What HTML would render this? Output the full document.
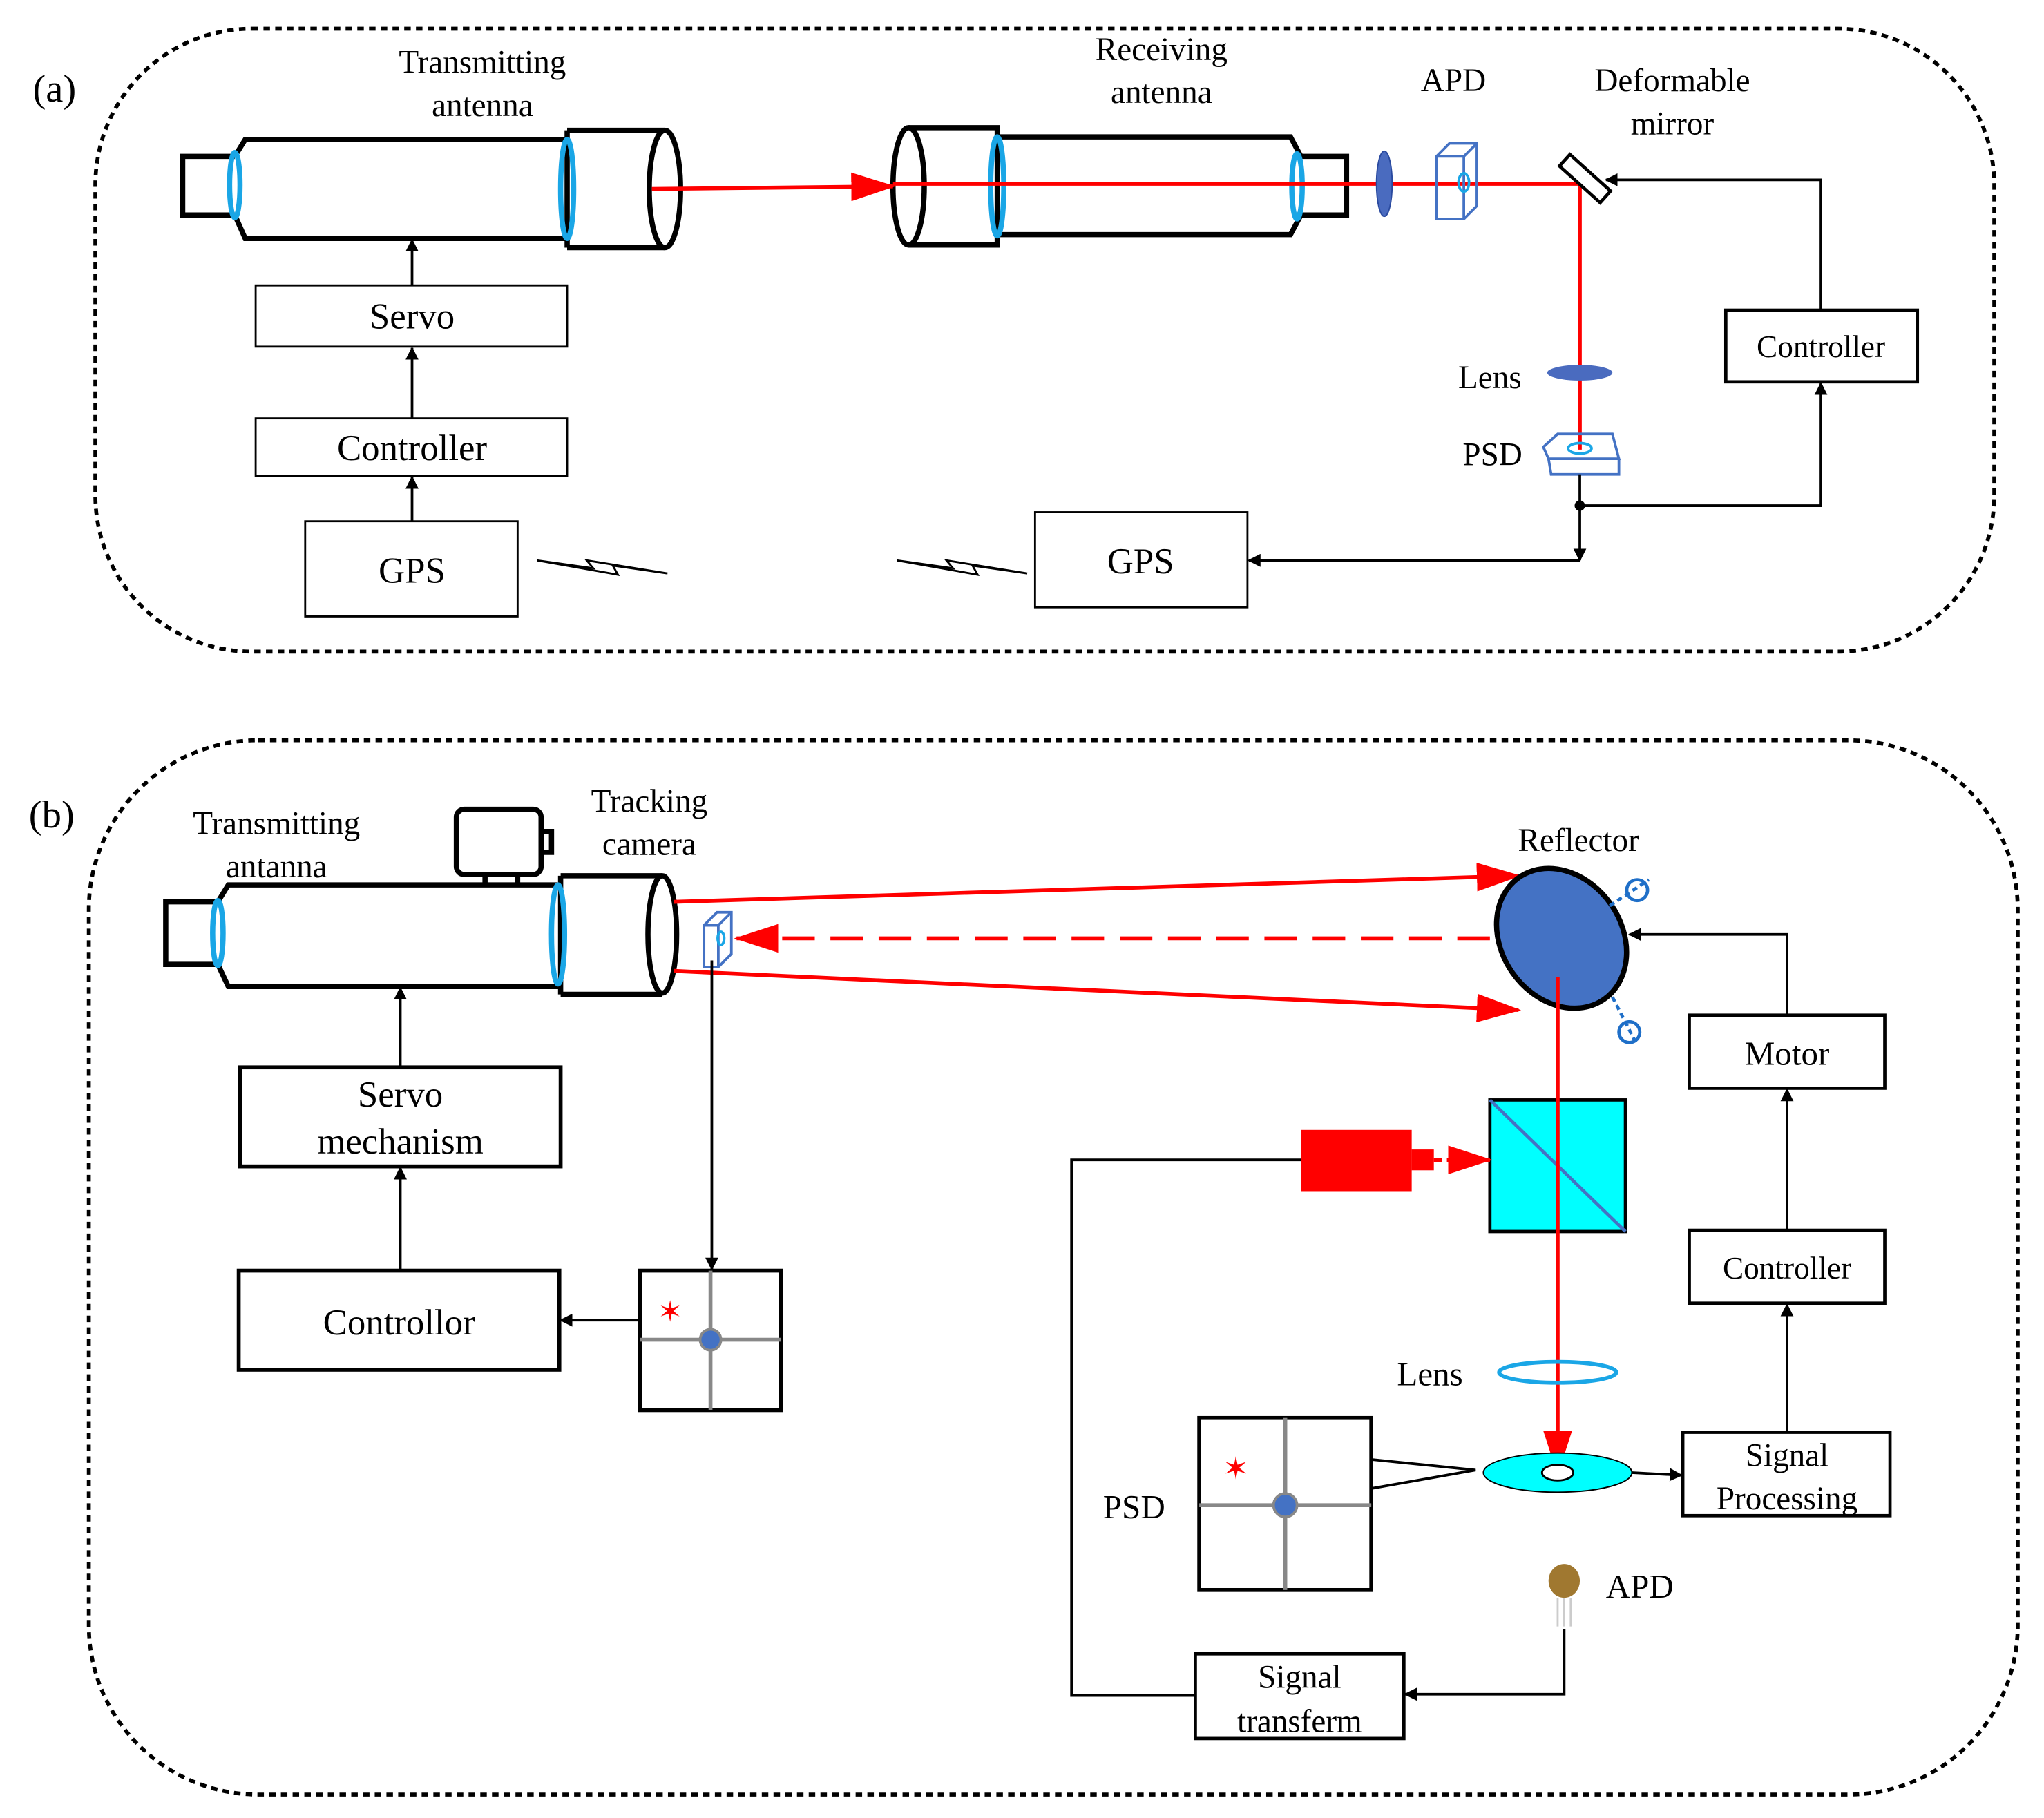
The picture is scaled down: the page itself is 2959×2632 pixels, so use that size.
<!DOCTYPE html>
<html><head><meta charset="utf-8"><style>
html,body{margin:0;padding:0;background:#fff;}
svg{display:block;}
text{font-family:"Liberation Serif",serif;fill:#000;}
</style></head><body>
<svg width="2959" height="2632" viewBox="0 0 1568 1395" xmlns="http://www.w3.org/2000/svg">
<defs>
<marker id="ab" markerWidth="10" markerHeight="10" refX="9" refY="5" orient="auto" markerUnits="userSpaceOnUse"><path d="M0,0 L10,5 L0,10 z" fill="#000"/></marker>
<marker id="ar" markerWidth="34" markerHeight="22" refX="32" refY="11" orient="auto" markerUnits="userSpaceOnUse"><path d="M0,0 L34,11 L0,22 z" fill="#f00"/></marker>
</defs>
<!-- (a) -->
<rect x="73" y="22" width="1457" height="478" rx="120" fill="none" stroke="#000" stroke-width="3" stroke-dasharray="5,4"/>
<text x="25" y="78" font-size="30">(a)</text>
<g fill="none" stroke="#000" stroke-width="4">
<path d="M180,120 L140,120 L140,165 L180,165"/>
<path d="M180,120 L188,107 L435,107 M180,165 L188,183 L435,183"/>
<path d="M435,100 L510,100 M435,190 L510,190 M435,100 L435,190"/>
<ellipse cx="510" cy="145" rx="12" ry="45"/>
<ellipse cx="697" cy="143" rx="12" ry="45"/>
<path d="M697,98 L765,98 L765,188 L697,188"/>
<path d="M765,105 L990,105 L998,120 M765,180 L990,180 L998,165"/>
<path d="M995,120 L1033,120 L1033,165 L995,165"/>
</g>
<g fill="none" stroke="#1aa6e6" stroke-width="4">
<ellipse cx="180" cy="142" rx="4" ry="25"/>
<ellipse cx="435" cy="145" rx="5" ry="38"/>
<ellipse cx="765" cy="143" rx="5" ry="38"/>
<ellipse cx="995" cy="143" rx="4" ry="25"/>
</g>
<line x1="500" y1="145" x2="685" y2="143" stroke="#f00" stroke-width="3" marker-end="url(#ar)"/>
<path d="M685,141 L1212,141 L1212,345" fill="none" stroke="#f00" stroke-width="3"/>
<ellipse cx="1062" cy="141" rx="6" ry="25" fill="#4a6bbf" stroke="#2a4a9f"/>
<g fill="none" stroke="#4472c4" stroke-width="2">
<path d="M1102,120 L1112,110 L1133,110 L1133,158 L1123,168 L1102,168 z M1123,120 L1133,110 M1102,120 L1123,120 L1123,168"/>
<ellipse cx="1123" cy="140" rx="4" ry="7" stroke="#1aa6e6"/>
</g>
<rect x="1195" y="131" width="42" height="12" fill="#fff" stroke="#000" stroke-width="2.5" transform="rotate(42 1216 137)"/>
<path d="M1397,238 L1397,138 L1232,138" fill="none" stroke="#000" stroke-width="2" marker-end="url(#ab)"/>
<rect x="1324" y="238" width="147" height="55" fill="#fff" stroke="#000" stroke-width="2.5"/>
<text x="1397" y="274" font-size="24" text-anchor="middle">Controller</text>
<ellipse cx="1212" cy="286" rx="25" ry="6" fill="#4a6bbf"/>
<g fill="none" stroke="#4472c4" stroke-width="2">
<path d="M1184,343 L1195,333 L1237,333 L1242,352 L1188,352 z M1188,352 L1190,364 L1242,364 L1242,352"/>
<ellipse cx="1212" cy="344" rx="9" ry="4" stroke="#1aa6e6"/>
</g>
<path d="M1212,364 L1212,430" fill="none" stroke="#000" stroke-width="2" marker-end="url(#ab)"/>
<circle cx="1212" cy="388" r="4" fill="#000"/>
<path d="M1212,388 L1397,388 L1397,294" fill="none" stroke="#000" stroke-width="2" marker-end="url(#ab)"/>
<path d="M1212,430 L958,430" fill="none" stroke="#000" stroke-width="2" marker-end="url(#ab)"/>
<rect x="794" y="393" width="163" height="73" fill="#fff" stroke="#000" stroke-width="1.5"/>
<text x="875" y="440" font-size="28" text-anchor="middle">GPS</text>
<rect x="196" y="219" width="239" height="47" fill="#fff" stroke="#000" stroke-width="1.5"/>
<text x="316" y="252" font-size="28" text-anchor="middle">Servo</text>
<rect x="196" y="321" width="239" height="44" fill="#fff" stroke="#000" stroke-width="1.5"/>
<text x="316" y="353" font-size="28" text-anchor="middle">Controller</text>
<rect x="234" y="400" width="163" height="73" fill="#fff" stroke="#000" stroke-width="1.5"/>
<text x="316" y="447" font-size="28" text-anchor="middle">GPS</text>
<g stroke="#000" stroke-width="2" fill="none" marker-end="url(#ab)">
<path d="M316,219 L316,184"/><path d="M316,321 L316,267"/><path d="M316,400 L316,366"/>
</g>
<path d="M412,430 L455,436 L450,430 L512,440 L470,434 L474,441 Z" fill="none" stroke="#000" stroke-width="1.5"/>
<path d="M688,430 L731,436 L726,430 L788,440 L746,434 L750,441 Z" fill="none" stroke="#000" stroke-width="1.5"/>
<g font-size="25" text-anchor="middle">
<text x="370" y="56">Transmitting</text><text x="370" y="89">antenna</text>
<text x="891" y="46">Receiving</text><text x="891" y="79">antenna</text>
<text x="1115" y="70">APD</text>
<text x="1283" y="70">Deformable</text><text x="1283" y="103">mirror</text>
<text x="1143" y="298">Lens</text>
<text x="1145" y="357">PSD</text>
</g>
<!-- (b) -->
<rect x="68" y="568" width="1480" height="809" rx="130" fill="none" stroke="#000" stroke-width="3" stroke-dasharray="5,4"/>
<text x="22" y="635" font-size="30">(b)</text>
<g fill="none" stroke="#000" stroke-width="4">
<path d="M167,692 L127,692 L127,740 L167,740"/>
<path d="M167,692 L175,679 L430,679 M167,740 L175,757 L430,757"/>
<path d="M430,672 L508,672 M430,763 L508,763 M430,672 L430,763"/>
<ellipse cx="508" cy="717" rx="11" ry="45"/>
<rect x="350" y="621" width="65" height="50" rx="6"/>
<path d="M415,638 L423,638 L423,654 L415,654"/>
<path d="M372,671 L372,679 M397,671 L397,679"/>
</g>
<g fill="none" stroke="#1aa6e6" stroke-width="4">
<ellipse cx="167" cy="716" rx="4" ry="25"/>
<ellipse cx="428" cy="717" rx="5" ry="38"/>
</g>
<g fill="none" stroke="#4472c4" stroke-width="2">
<path d="M540,710 L550,700 L561,700 L561,732 L551,742 L540,742 z M551,710 L561,700 M540,710 L551,710 L551,742"/>
<ellipse cx="553" cy="720" rx="2.5" ry="5" stroke="#1aa6e6"/>
</g>
<line x1="517" y1="692" x2="1165" y2="672" stroke="#f00" stroke-width="3" marker-end="url(#ar)"/>
<line x1="517" y1="745" x2="1165" y2="775" stroke="#f00" stroke-width="3" marker-end="url(#ar)"/>
<line x1="1143" y1="720" x2="565" y2="720" stroke="#f00" stroke-width="3" stroke-dasharray="25,12" marker-end="url(#ar)"/>
<ellipse cx="1198" cy="720" rx="46" ry="57" fill="#4472c4" stroke="#000" stroke-width="4" transform="rotate(-35 1198 720)"/>
<g stroke="#1f6fc8" stroke-width="2.5" fill="none">
<path d="M1235,695 L1265,675" stroke-dasharray="4,3"/>
<circle cx="1256" cy="683" r="8"/>
<path d="M1237,765 L1255,800" stroke-dasharray="4,3"/>
<circle cx="1250" cy="792" r="8"/>
</g>
<path d="M1371,779 L1371,717 L1250,717" fill="none" stroke="#000" stroke-width="2" marker-end="url(#ab)"/>
<rect x="1296" y="779" width="150" height="56" fill="#fff" stroke="#000" stroke-width="2.5"/>
<text x="1371" y="817" font-size="26" text-anchor="middle">Motor</text>
<rect x="1296" y="944" width="150" height="56" fill="#fff" stroke="#000" stroke-width="2.5"/>
<text x="1371" y="981" font-size="24" text-anchor="middle">Controller</text>
<rect x="1291" y="1099" width="159" height="64" fill="#fff" stroke="#000" stroke-width="2.5"/>
<text x="1371" y="1125" font-size="25" text-anchor="middle">Signal</text>
<text x="1371" y="1158" font-size="25" text-anchor="middle">Processing</text>
<g stroke="#000" stroke-width="2" fill="none" marker-end="url(#ab)">
<path d="M1371,944 L1371,836"/><path d="M1371,1099 L1371,1001"/>
</g>
<rect x="1143" y="844" width="104" height="101" fill="#00ffff" stroke="#000" stroke-width="2.5"/>
<line x1="1143" y1="844" x2="1247" y2="945" stroke="#4472c4" stroke-width="2.5"/>
<rect x="998" y="867" width="85" height="47" fill="#f00"/>
<rect x="1083" y="882" width="17" height="16" fill="#f00"/>
<line x1="1100" y1="890" x2="1143" y2="890" stroke="#f00" stroke-width="3" stroke-dasharray="6,4" marker-end="url(#ar)"/>
<line x1="1195" y1="750" x2="1195" y2="1130" stroke="#f00" stroke-width="3" marker-end="url(#ar)"/>
<path d="M998,890 L822,890 L822,1301 L917,1301" fill="none" stroke="#000" stroke-width="2"/>
<ellipse cx="1195" cy="1053" rx="45" ry="8" fill="none" stroke="#1aa6e6" stroke-width="3"/>
<ellipse cx="1195" cy="1130" rx="57" ry="15" fill="#00ffff" stroke="#000" stroke-width="1"/>
<ellipse cx="1195" cy="1130" rx="12" ry="6" fill="#fff" stroke="#000" stroke-width="1.5"/>
<path d="M1252,1130 L1290,1132" fill="none" stroke="#000" stroke-width="2" marker-end="url(#ab)"/>
<path d="M1053,1120 L1132,1128 L1053,1142" fill="none" stroke="#000" stroke-width="2"/>
<rect x="920" y="1088" width="132" height="132" fill="#fff" stroke="#000" stroke-width="3"/>
<path d="M986,1088 L986,1220 M920,1155 L1052,1155" stroke="#888" stroke-width="3"/>
<circle cx="986" cy="1155" r="9" fill="#4472c4" stroke="#888" stroke-width="2"/>
<text x="948" y="1135" font-size="24" text-anchor="middle" style="fill:#f00">✶</text>
<text x="870" y="1165" font-size="26" text-anchor="middle">PSD</text>
<text x="1097" y="1063" font-size="26" text-anchor="middle">Lens</text>
<ellipse cx="1200" cy="1213" rx="12" ry="13" fill="#a07830"/>
<path d="M1195,1226 L1195,1248 M1200,1226 L1200,1248 M1205,1226 L1205,1248" stroke="#ccc" stroke-width="1.5"/>
<text x="1258" y="1226" font-size="26" text-anchor="middle">APD</text>
<path d="M1200,1250 L1200,1300 L1078,1300" fill="none" stroke="#000" stroke-width="2" marker-end="url(#ab)"/>
<rect x="917" y="1269" width="160" height="65" fill="#fff" stroke="#000" stroke-width="2.5"/>
<text x="997" y="1295" font-size="25" text-anchor="middle">Signal</text>
<text x="997" y="1329" font-size="25" text-anchor="middle">transferm</text>
<rect x="184" y="819" width="246" height="76" fill="#fff" stroke="#000" stroke-width="3"/>
<text x="307" y="849" font-size="28" text-anchor="middle">Servo</text>
<text x="307" y="885" font-size="28" text-anchor="middle">mechanism</text>
<rect x="183" y="975" width="246" height="76" fill="#fff" stroke="#000" stroke-width="3"/>
<text x="306" y="1024" font-size="28" text-anchor="middle">Controllor</text>
<g stroke="#000" stroke-width="2" fill="none" marker-end="url(#ab)">
<path d="M307,819 L307,758"/><path d="M307,975 L307,896"/>
<path d="M546,737 L546,974"/><path d="M491,1013 L430,1013"/>
</g>
<rect x="491" y="975" width="108" height="107" fill="#fff" stroke="#000" stroke-width="3"/>
<path d="M545,975 L545,1082 M491,1028 L599,1028" stroke="#888" stroke-width="3"/>
<circle cx="545" cy="1028" r="8" fill="#4472c4" stroke="#888" stroke-width="2"/>
<text x="514" y="1014" font-size="22" text-anchor="middle" style="fill:#f00">✶</text>
<g font-size="25" text-anchor="middle">
<text x="212" y="640">Transmitting</text><text x="212" y="673">antanna</text>
<text x="498" y="623">Tracking</text><text x="498" y="656">camera</text>
<text x="1211" y="653">Reflector</text>
</g>
</svg>
</body></html>
